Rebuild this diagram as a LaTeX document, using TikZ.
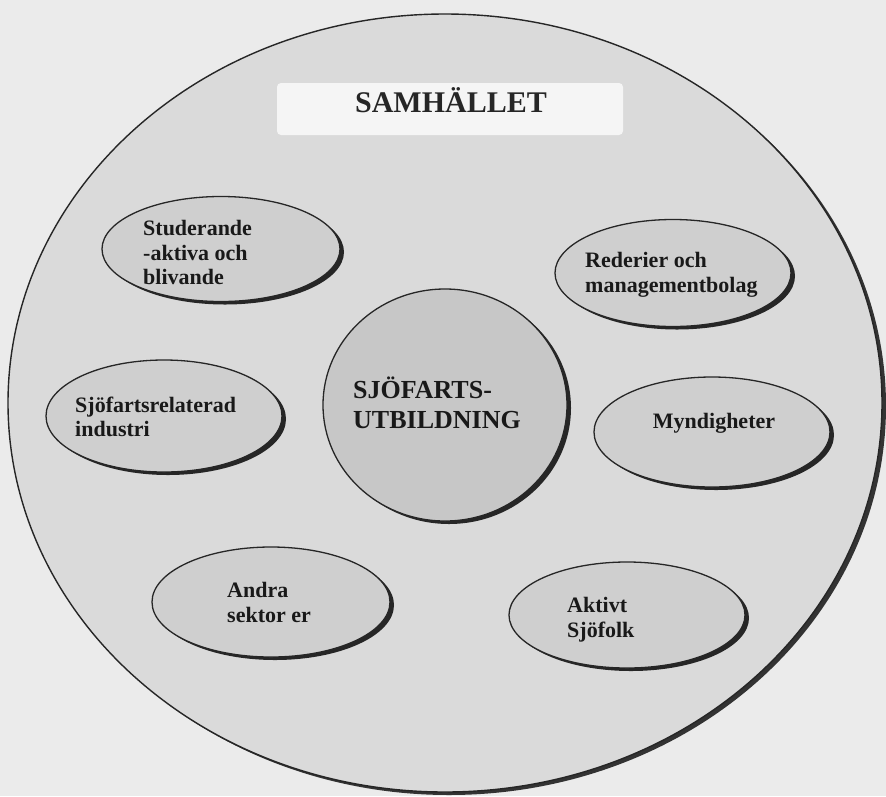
\documentclass[tikz,border=0pt]{standalone}
\usepackage{fontspec}
\setmainfont{Liberation Serif}
\usetikzlibrary{shapes.geometric,shadows}
\definecolor{bggray}{gray}{0.92}
\definecolor{discgray}{gray}{0.855}
\definecolor{ovalgray}{gray}{0.81}
\definecolor{coregray}{gray}{0.78}
\definecolor{boxgray}{gray}{0.96}
\tikzset{
  ovalshape/.style={ellipse, draw=black!85, line width=1.3pt, fill=ovalgray,
    inner sep=0pt, minimum width=236pt, minimum height=106pt,
    drop shadow={shadow xshift=4pt, shadow yshift=-3pt, fill=black!85, opacity=1}},
  lbl/.style={anchor=base west, inner sep=0pt, font=\fontsize{22}{26}\selectfont\bfseries, text=black!90},
  corelbl/.style={anchor=base west, inner sep=0pt, font=\fontsize{26}{30}\selectfont\bfseries, text=black!90},
}
\begin{document}
\begin{tikzpicture}[x=1pt, y=-1pt]
\useasboundingbox (0,0) rectangle (886,796);
\fill[bggray] (0,0) rectangle (886,796);

% society disc
\node[ellipse, draw=black!85, line width=1.4pt, fill=discgray, inner sep=0pt,
      minimum width=874pt, minimum height=778pt,
      drop shadow={shadow xshift=4pt, shadow yshift=-3pt, fill=black!80, opacity=1}]
      (soc) at (445,403) {};

% title box
\node[rectangle, fill=boxgray, rounded corners=4pt, inner sep=0pt,
      minimum width=346pt, minimum height=52pt] (samhbox) at (450,109) {};
\node[anchor=base, inner sep=0pt, font=\fontsize{30}{34}\selectfont\bfseries, text=black!85]
      (samh) at (451,112) {SAMHÄLLET};

% centre
\node[ellipse, draw=black!85, line width=1.3pt, fill=coregray, inner sep=0pt,
      minimum width=244pt, minimum height=232pt,
      drop shadow={shadow xshift=4pt, shadow yshift=-3pt, fill=black!85, opacity=1}]
      (core) at (445,405) {};
\node[corelbl] (core1) at (353,398) {SJÖFARTS-};
\node[corelbl] (core2) at (353,428) {UTBILDNING};

% surrounding ovals
\node[ovalshape, minimum width=238pt, minimum height=105pt] (stud) at (221,249) {};
\node[lbl] (stud1) at (143,235) {Studerande};
\node[lbl] (stud2) at (143,260) {-aktiva och};
\node[lbl] (stud3) at (143,284) {blivande};

\node[ovalshape, minimum width=236pt, minimum height=107pt] (red) at (673,273) {};
\node[lbl] (red1) at (585,267) {Rederier och};
\node[lbl] (red2) at (585,292) {managementbolag};

\node[ovalshape, minimum width=236pt, minimum height=112pt] (sjo) at (164,416) {};
\node[lbl] (sjo1) at (75,412) {Sjöfartsrelaterad};
\node[lbl] (sjo2) at (75,436) {industri};

\node[ovalshape, minimum width=236pt, minimum height=110pt] (myn) at (712,432) {};
\node[lbl, anchor=base] (myn1) at (714,428) {Myndigheter};

\node[ovalshape, minimum width=238pt, minimum height=110pt] (andra) at (271,602) {};
\node[lbl] (andra1) at (227,597) {Andra};
\node[lbl] (andra2) at (227,622) {sektor er};

\node[ovalshape, minimum width=236pt, minimum height=106pt] (akt) at (627,615) {};
\node[lbl] (akt1) at (567,612) {Aktivt};
\node[lbl] (akt2) at (567,637) {Sjöfolk};
\end{tikzpicture}
\end{document}
